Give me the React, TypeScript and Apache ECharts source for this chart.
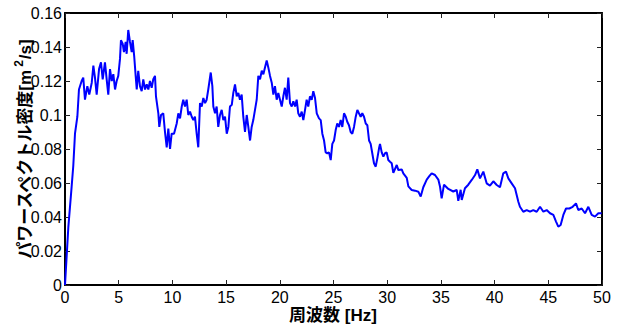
import React, { useEffect, useRef } from "react";
import * as echarts from "echarts";

const freqHz: number[] = [
  0, 0.31, 0.62, 0.77, 0.93, 1.15, 1.3, 1.55, 1.7, 1.86, 2.08, 2.26, 2.49, 2.64, 2.79, 2.95,
  3.17, 3.35, 3.51, 3.72, 3.88, 4.03, 4.19, 4.35, 4.5, 4.66, 4.81, 4.96, 5.12, 5.21, 5.37, 5.49,
  5.65, 5.74, 5.89, 6.05, 6.21, 6.3, 6.45, 6.58, 6.68, 6.82, 6.98, 7.14, 7.29, 7.45, 7.61, 7.76,
  7.91, 8.07, 8.22, 8.38, 8.47, 8.69, 8.78, 8.94, 9.15, 9.31, 9.47, 9.62, 9.78, 9.93, 10.15, 10.4,
  10.55, 10.71, 10.87, 11.01, 11.17, 11.33, 11.48, 11.64, 11.8, 11.95, 12.1, 12.26, 12.41, 12.57,
  12.73, 12.88, 13.04, 13.19, 13.34, 13.57, 13.72, 13.81, 13.97, 14.12, 14.27, 14.43, 14.59, 14.74,
  14.9, 15.06, 15.21, 15.36, 15.53, 15.67, 15.83, 15.99, 16.14, 16.29, 16.45, 16.6, 16.76, 16.92,
  17.07, 17.23, 17.38, 17.53, 17.69, 17.85, 18.0, 18.16, 18.32, 18.47, 18.62, 18.78, 18.93, 19.09,
  19.25, 19.4, 19.55, 19.71, 19.86, 20.02, 20.18, 20.33, 20.48, 20.64, 20.79, 20.95, 21.11, 21.26,
  21.42, 21.57, 21.72, 21.88, 22.04, 22.19, 22.35, 22.5, 22.65, 22.81, 22.97, 23.12, 23.28, 23.44,
  23.65, 23.81, 23.96, 24.12, 24.27, 24.42, 24.58, 24.74, 24.89, 25.05, 25.2, 25.35, 25.51, 25.67,
  25.82, 25.98, 26.14, 26.28, 26.44, 26.6, 26.75, 26.91, 27.07, 27.22, 27.37, 27.53, 27.68, 27.84,
  28.0, 28.15, 28.31, 28.46, 28.61, 28.77, 28.93, 29.08, 29.24, 29.33, 29.49, 29.64, 29.8, 29.95,
  30.1, 30.26, 30.42, 30.57, 30.89, 31.04, 31.35, 31.5, 31.82, 31.97, 32.28, 32.59, 32.9, 33.12,
  33.36, 33.68, 33.92, 34.14, 34.45, 34.76, 34.92, 35.07, 35.29, 35.69, 36.15, 36.47, 36.62, 36.84,
  36.94, 37.24, 37.55, 37.87, 38.18, 38.39, 38.64, 38.95, 39.26, 39.57, 39.88, 40.2, 40.5, 40.81,
  41.06, 41.28, 41.59, 41.9, 42.21, 42.36, 42.67, 42.99, 43.3, 43.6, 43.92, 44.23, 44.54, 44.85,
  45.16, 45.47, 45.72, 45.93, 46.15, 46.4, 46.65, 46.96, 47.27, 47.58, 47.79, 48.11, 48.42, 48.73,
  49.04, 49.35, 49.66, 49.97,
];

const psdValues: number[] = [
  0, 0.034, 0.058, 0.07, 0.089, 0.099, 0.115, 0.12, 0.122, 0.109, 0.117, 0.112, 0.119, 0.129, 0.122, 0.112,
  0.127, 0.131, 0.121, 0.131, 0.121, 0.112, 0.127, 0.12, 0.124, 0.115, 0.12, 0.123, 0.133, 0.144, 0.142, 0.137,
  0.143, 0.136, 0.15, 0.143, 0.137, 0.144, 0.134, 0.123, 0.115, 0.126, 0.117, 0.114, 0.121, 0.115, 0.118, 0.115,
  0.12, 0.116, 0.121, 0.123, 0.111, 0.101, 0.093, 0.1, 0.101, 0.09, 0.081, 0.092, 0.08, 0.089, 0.089, 0.095,
  0.101, 0.098, 0.105, 0.109, 0.105, 0.109, 0.1, 0.102, 0.099, 0.097, 0.099, 0.089, 0.081, 0.107,
  0.105, 0.11, 0.107, 0.109, 0.115, 0.125, 0.117, 0.105, 0.101, 0.105, 0.093, 0.1, 0.103, 0.097,
  0.099, 0.089, 0.093, 0.105, 0.106, 0.113, 0.118, 0.111, 0.113, 0.109, 0.112, 0.099, 0.09, 0.1,
  0.093, 0.085, 0.093, 0.097, 0.103, 0.109, 0.123, 0.121, 0.126, 0.124, 0.128, 0.132, 0.128, 0.123,
  0.119, 0.112, 0.117, 0.109, 0.113, 0.109, 0.105, 0.111, 0.116, 0.109, 0.122, 0.107, 0.105, 0.108,
  0.105, 0.109, 0.101, 0.099, 0.102, 0.097, 0.103, 0.109, 0.105, 0.111, 0.109, 0.114, 0.11, 0.101,
  0.098, 0.097, 0.089, 0.085, 0.078, 0.0775, 0.078, 0.0735, 0.083, 0.085, 0.091, 0.095, 0.093, 0.097,
  0.093, 0.101, 0.099, 0.096, 0.094, 0.09, 0.089, 0.093, 0.099, 0.103, 0.101, 0.099, 0.101, 0.099,
  0.095, 0.094, 0.085, 0.083, 0.0775, 0.0716, 0.0696, 0.0745, 0.0804, 0.083, 0.078, 0.0755, 0.0775, 0.078,
  0.0735, 0.0725, 0.0716, 0.066, 0.0706, 0.0676, 0.068, 0.0657, 0.063, 0.058, 0.0559, 0.0555, 0.0549, 0.052,
  0.0575, 0.062, 0.064, 0.0657, 0.0647, 0.062, 0.0578, 0.051, 0.059, 0.0565, 0.055, 0.0559, 0.0495, 0.056,
  0.05, 0.0569, 0.059, 0.0618, 0.0647, 0.068, 0.0627, 0.0667, 0.0598, 0.0585, 0.061, 0.0588, 0.0575, 0.0657,
  0.0667, 0.0627, 0.0598, 0.0569, 0.049, 0.046, 0.0431, 0.0441, 0.0431, 0.0441, 0.0431, 0.046, 0.0431, 0.0441,
  0.0422, 0.0412, 0.0373, 0.0343, 0.0353, 0.0412, 0.045, 0.045, 0.046, 0.048, 0.0441, 0.045, 0.0422, 0.046,
  0.0412, 0.0402, 0.0422, 0.0422,
];

const xTicks = { min: 0, max: 50, interval: 5 };
const yTicks = { min: 0, max: 0.16, interval: 0.02 };

const xAxisTitle = "周波数 [Hz]";
const yAxisTitleMain = "パワースペクトル密度[m";
const yAxisTitleSup = "2";
const yAxisTitleEnd = "/s]";

const LATIN = "Liberation Sans, Arial, Helvetica, sans-serif";
const MIXED = "Liberation Sans, Noto Sans CJK JP, sans-serif";

function measure(text: string, font: string): number {
  const c = document.createElement("canvas");
  const ctx = c.getContext("2d");
  if (!ctx) return text.length * 10;
  ctx.font = font;
  return ctx.measureText(text).width;
}

export default function App() {
  const ref = useRef<HTMLDivElement>(null);

  useEffect(() => {
    if (!ref.current) return;
    const chart = echarts.init(ref.current, undefined, { renderer: "svg" });
    const data = freqHz.map((f, i) => [f, psdValues[i]]);
    const axisLine = { show: true, onZero: false, lineStyle: { color: "#000", width: 2 } };
    const axisTick = { show: true, inside: true, length: 5, lineStyle: { color: "#222", width: 1 } };

    const titleSize = 17;
    const supSize = 12;
    const mainFont = `bold ${titleSize}px ${MIXED}`;
    const supFont = `bold ${supSize}px ${LATIN}`;
    const w1 = measure(yAxisTitleMain, mainFont);
    const w2 = measure(yAxisTitleSup, supFont) + 2;
    const w3 = measure(yAxisTitleEnd, mainFont);
    const total = w1 + w2 + w3;
    const start = -total / 2;

    chart.setOption({
      animation: false,
      backgroundColor: "#fff",
      grid: { left: 65, right: 17, top: 13, bottom: 42, containLabel: false, outerBoundsMode: "none" },
      xAxis: [
        {
          type: "value",
          position: "bottom",
          ...xTicks,
          axisLine,
          axisTick,
          splitLine: { show: false },
          axisLabel: { color: "#000", fontSize: 16, lineHeight: 16, fontFamily: LATIN, margin: 4 },
        },
        {
          type: "value",
          position: "top",
          ...xTicks,
          axisLine,
          axisTick,
          splitLine: { show: false },
          axisLabel: { show: false },
        },
      ],
      yAxis: [
        {
          type: "value",
          position: "left",
          ...yTicks,
          axisLine,
          axisTick,
          splitLine: { show: false },
          axisLabel: {
            color: "#000",
            fontSize: 16,
            fontFamily: LATIN,
            margin: 3,
            formatter: (v: number) => String(parseFloat(v.toFixed(2))),
          },
        },
        {
          type: "value",
          position: "right",
          ...yTicks,
          axisLine,
          axisTick,
          splitLine: { show: false },
          axisLabel: { show: false },
        },
      ],
      series: [
        {
          type: "line",
          xAxisIndex: 0,
          yAxisIndex: 0,
          data,
          showSymbol: false,
          symbol: "none",
          lineStyle: { color: "#0000ff", width: 2 },
          itemStyle: { color: "#0000ff" },
        },
      ],
      graphic: [
        {
          type: "text",
          x: 333,
          y: 315,
          style: {
            text: xAxisTitle,
            font: mainFont,
            fill: "#000",
            align: "center",
            verticalAlign: "middle",
          },
        },
        {
          type: "group",
          x: 25,
          y: 149,
          rotation: Math.PI / 2,
          children: [
            {
              type: "text",
              x: start,
              y: 0,
              style: {
                text: yAxisTitleMain,
                font: mainFont,
                fill: "#000",
                align: "left",
                verticalAlign: "middle",
              },
            },
            {
              type: "text",
              x: start + w1 + 1,
              y: -6,
              style: {
                text: yAxisTitleSup,
                font: supFont,
                fill: "#000",
                align: "left",
                verticalAlign: "middle",
              },
            },
            {
              type: "text",
              x: start + w1 + w2,
              y: 0,
              style: {
                text: yAxisTitleEnd,
                font: mainFont,
                fill: "#000",
                align: "left",
                verticalAlign: "middle",
              },
            },
          ],
        },
      ],
    });
    return () => chart.dispose();
  }, []);

  return (
    <div
      ref={ref}
      style={{ position: "fixed", left: 0, top: 0, width: 619, height: 327, background: "#fff" }}
    />
  );
}
